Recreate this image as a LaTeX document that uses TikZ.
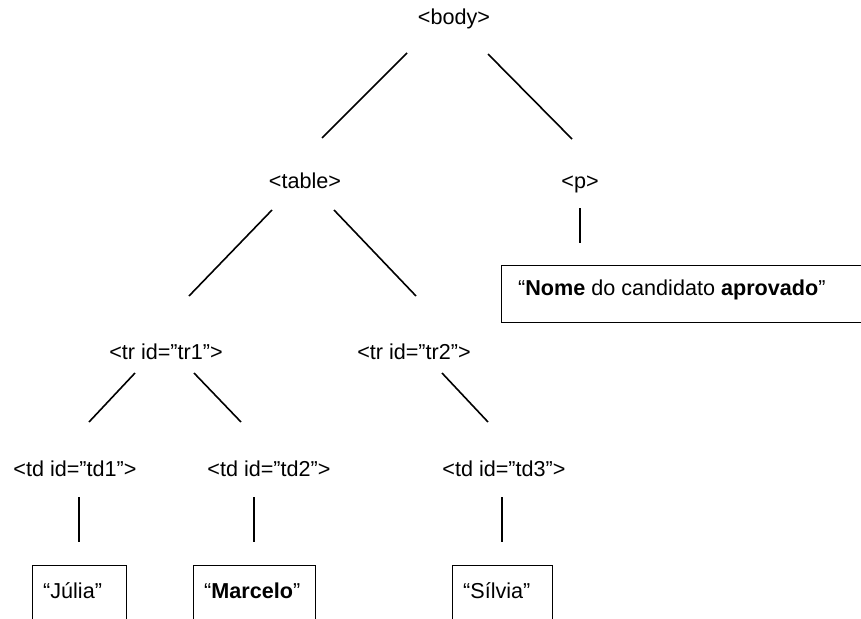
\documentclass[tikz,border=0pt]{standalone}
\usepackage{fontspec}
\setmainfont{Liberation Sans}
\begin{document}
\begin{tikzpicture}[x=1pt,y=-1pt,
  lbl/.style={font=\fontsize{21.6}{26}\selectfont, inner sep=0pt, anchor=base},
  boxtext/.style={font=\fontsize{21.6}{26}\selectfont, inner sep=0pt, anchor=base west},
  edge/.style={line width=1.6pt, line cap=butt},
  leaf/.style={draw, line width=1.1pt, inner sep=0pt, anchor=north west}]
\useasboundingbox (0,0) rectangle (861,618);
\clip (0,0) rectangle (861,618);

% tag nodes
\node[lbl] (body)  at (454,25)  {<body>};
\node[lbl] (table) at (305,188) {<table>};
\node[lbl] (p)     at (580,188) {<p>};
\node[lbl] (tr1)   at (166,359) {<tr id=”tr1”>};
\node[lbl] (tr2)   at (414,359) {<tr id=”tr2”>};
\node[lbl] (td1)   at (75,476)  {<td id=”td1”>};
\node[lbl] (td2)   at (269,476) {<td id=”td2”>};
\node[lbl] (td3)   at (504,476) {<td id=”td3”>};

% leaf boxes (cut by the picture edge)
\node[leaf, minimum width=94pt, minimum height=80pt]  (jbox) at (32,565) {};
\node[leaf, minimum width=122pt, minimum height=80pt] (mbox) at (193,565) {};
\node[leaf, minimum width=100pt, minimum height=80pt] (sbox) at (452,565) {};
\node[leaf, minimum width=400pt, minimum height=57pt] (nbox) at (501,265) {};

\node[boxtext] (julia)   at (43,598)  {“Júlia”};
\node[boxtext] (marcelo) at (204,598) {“\textbf{Marcelo}”};
\node[boxtext] (silvia)  at (463,598) {“Sílvia”};
\node[boxtext] (nome)    at (518,295) {“\textbf{Nome} do candidato \textbf{aprovado}”};

% connector end points
\coordinate (b1) at (407,53);  \coordinate (t1) at (322,138);
\coordinate (b2) at (488,54);  \coordinate (p1) at (572,139);
\coordinate (t2) at (272,210); \coordinate (r1) at (189,296);
\coordinate (t3) at (334,210); \coordinate (r2) at (416,296);
\coordinate (r3) at (135,373); \coordinate (d1) at (89,422);
\coordinate (r4) at (194,373); \coordinate (d2) at (241,422);
\coordinate (r5) at (442,373); \coordinate (d3) at (488,422);
\coordinate (p2) at (580,208); \coordinate (n1) at (580,243);
\coordinate (e1) at (79,497);  \coordinate (j1) at (79,542);
\coordinate (e2) at (254,497); \coordinate (m1) at (254,542);
\coordinate (e3) at (502,497); \coordinate (s1) at (502,542);

\draw[edge] (b1) -- (t1);
\draw[edge] (b2) -- (p1);
\draw[edge] (t2) -- (r1);
\draw[edge] (t3) -- (r2);
\draw[edge] (r3) -- (d1);
\draw[edge] (r4) -- (d2);
\draw[edge] (r5) -- (d3);
\draw[edge] (p2) -- (n1);
\draw[edge] (e1) -- (j1);
\draw[edge] (e2) -- (m1);
\draw[edge] (e3) -- (s1);
\end{tikzpicture}
\end{document}
